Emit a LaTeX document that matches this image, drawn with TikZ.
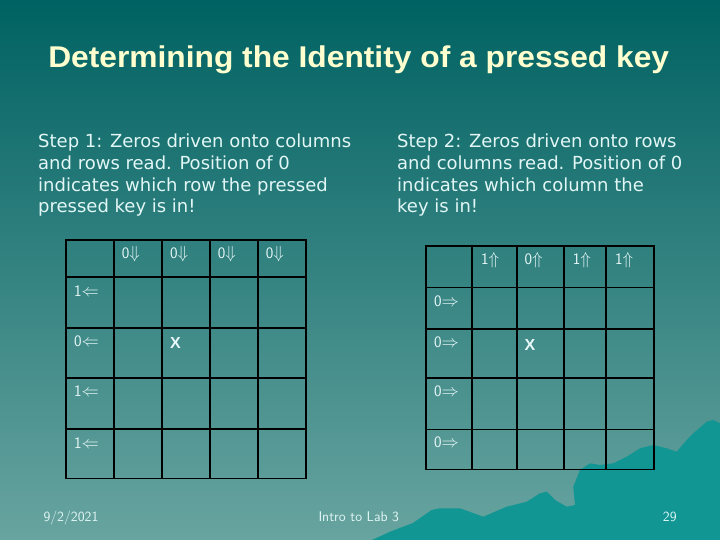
\documentclass[tikz,border=0pt]{standalone}
\usepackage{fontspec}
\usepackage{graphicx}
\newfontfamily\titlefont{Liberation Sans}
\newfontfamily\stepfont{DejaVu Sans}
\definecolor{bgtop}{RGB}{0,98,98}
\definecolor{bgbot}{RGB}{104,164,160}
\definecolor{mount}{RGB}{18,150,148}
\definecolor{titlecol}{RGB}{255,255,208}
\definecolor{textcol}{RGB}{226,246,246}
\definecolor{labcol}{RGB}{232,248,248}
\begin{document}
\begin{tikzpicture}[x=1pt,y=-1pt,
  gridline/.style={draw=black,line width=1.6pt,line cap=rect},
  lab/.style={font=\sffamily\fontsize{16}{16}\selectfont,text=labcol,inner sep=0pt,anchor=base west},
  xmark/.style={font=\titlefont\bfseries\fontsize{16}{16}\selectfont,text=labcol,inner sep=0pt,anchor=base west},
  steptext/.style={font=\stepfont\fontsize{18}{21.7}\selectfont,text=textcol,inner sep=0pt,anchor=north west,align=left},
  foot/.style={font=\sffamily\fontsize{14}{14}\selectfont,text=textcol,inner sep=0pt,anchor=base west}]
\useasboundingbox (0,0) rectangle (720,540);
\shade[top color=bgtop,bottom color=bgbot] (0,0) rectangle (720,540);
% mountain
\fill[mount] (372,540) -- (390,531.7) -- (413,523) -- (431.6,510) -- (440,508.3) -- (460,508.3)
  -- (483.3,516.7) -- (506.7,506.7) -- (526.7,501.7) -- (540,493.3) -- (546.7,491.7)
  -- (555,500) -- (566.7,506.7) -- (575,505) -- (573.3,486.7) -- (580,470) -- (590,463.3)
  -- (600,465) -- (613.3,463.3) -- (626.7,456.7) -- (640,448.3) -- (653.3,445)
  -- (666.7,448.3) -- (676.7,451.7) -- (686.7,440) -- (693.3,433.3) -- (706.7,421.7)
  -- (713.3,420) -- (720,423.3) -- (720,540) -- cycle;
% title
\node[inner sep=0pt,anchor=base,text=titlecol,font=\titlefont\bfseries\fontsize{30}{30}\selectfont] (title) at (358.7,67.7)
  {\scalebox{1.058}[1]{Determining the Identity of a pressed key}};
% step texts
\node[steptext] (step1) at (38,133.8) {Step 1: Zeros driven onto columns\\and rows read. Position of 0\\indicates which row the pressed\\pressed key is in!};
\node[steptext] (step2) at (397,133.8) {Step 2: Zeros driven onto rows\\and columns read. Position of 0\\indicates which column the\\key is in!};
% left grid
\foreach \x in {65.7,114,161.7,210,258,306} \draw[gridline] (\x,240) -- (\x,478.3);
\foreach \y in {240,276.7,327.7,377.7,429,478.3} \draw[gridline] (65.7,\y) -- (306,\y);
\foreach \x/\n in {121.7/1,170/2,217.7/3,265.7/4}
  \node[lab] (lc\n) at (\x,258.5) {0$\Downarrow$};
\node[lab] (lr1) at (74,296.7) {1$\Leftarrow$};
\node[lab] (lr2) at (74,346.7) {0$\Leftarrow$};
\node[lab] (lr3) at (74,396.7) {1$\Leftarrow$};
\node[lab] (lr4) at (74,448) {1$\Leftarrow$};
\node[xmark] (lx) at (170,348.5) {X};
% right grid
\foreach \x in {425.7,471.7,516.7,563.7,606,654} \draw[gridline] (\x,245.7) -- (\x,469.3);
\foreach \y in {245.7,287.3,329,377.7,429.3,469.3} \draw[gridline] (425.7,\y) -- (654,\y);
\node[lab] (rc1) at (481,264.5) {1$\Uparrow$};
\node[lab] (rc2) at (524.3,264.5) {0$\Uparrow$};
\node[lab] (rc3) at (572.7,264.5) {1$\Uparrow$};
\node[lab] (rc4) at (615,264.5) {1$\Uparrow$};
\node[lab] (rr1) at (434,306.7) {0$\Rightarrow$};
\node[lab] (rr2) at (434,347.3) {0$\Rightarrow$};
\node[lab] (rr3) at (434,396.7) {0$\Rightarrow$};
\node[lab] (rr4) at (434,447.7) {0$\Rightarrow$};
\node[xmark] (rx) at (524.3,350.5) {X};
% footer
\node[foot] (date) at (43.3,521.7) {9/2/2021};
\node[foot] (course) at (318.3,521.7) {Intro to Lab 3};
\node[foot] (page) at (662.7,521.7) {29};
\end{tikzpicture}
\end{document}
